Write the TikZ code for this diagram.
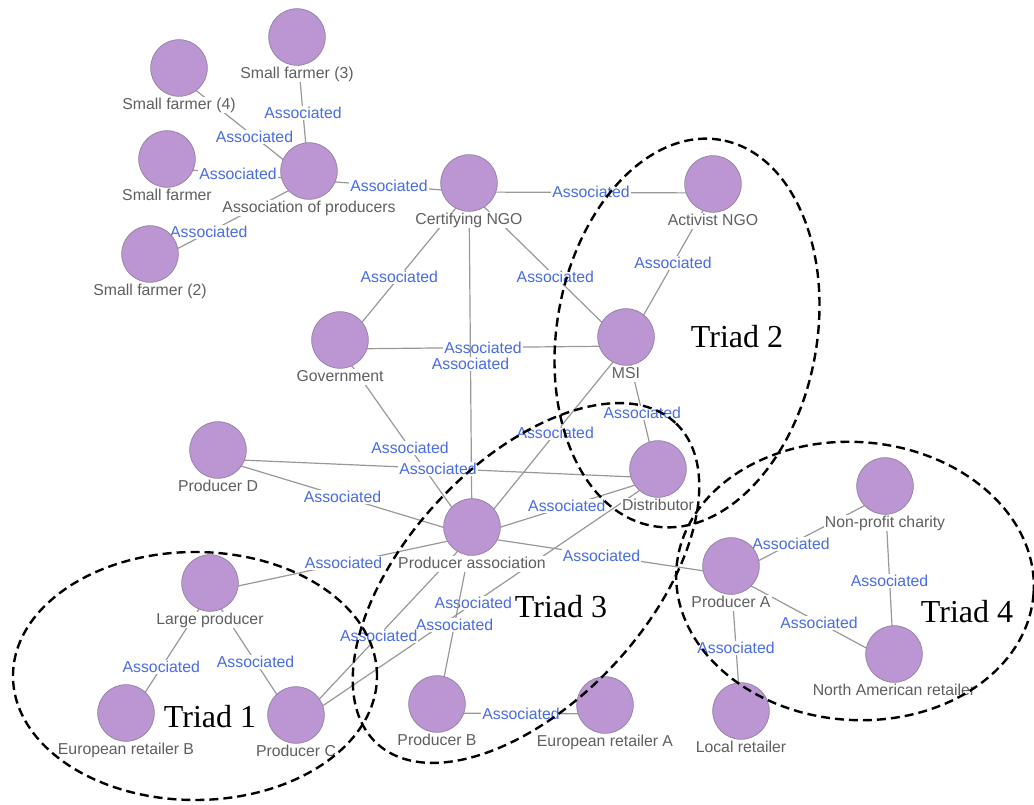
\documentclass[tikz,border=0pt]{standalone}
\usepackage{fontspec}
\setmainfont{Liberation Sans}
\newfontfamily\triadfont{Liberation Serif}
\usepackage{tikz}
\usetikzlibrary{backgrounds}
\definecolor{nodefill}{RGB}{187,150,211}
\definecolor{nodeedge}{RGB}{150,132,168}
\definecolor{linkgrey}{RGB}{152,152,152}
\definecolor{labelgrey}{RGB}{95,95,95}
\definecolor{assocblue}{RGB}{72,108,228}
\tikzset{
  actorname/.style={font=\fontsize{15.8}{18}\selectfont, text=labelgrey,
    fill=white, inner sep=1pt, text height=11.5pt, text depth=3pt},
  actor/.style={circle, draw=nodeedge, fill=nodefill, minimum size=56.6pt,
    inner sep=0pt, line width=0.8pt, label distance=3pt,
    label={[actorname]below:#1}},
  assoc/.style={font=\fontsize{15.8}{18}\selectfont, text=assocblue,
    fill=white, inner sep=1pt, text height=11.5pt, text depth=0.5pt},
  link/.style={line width=1.2pt, color=linkgrey},
  triad/.style={dash pattern=on 9pt off 5pt, line width=2.4pt, color=black},
  triadlabel/.style={font=\triadfont\fontsize{32}{36}\selectfont, anchor=base, inner sep=0pt}
}

\begin{document}
\begin{tikzpicture}[x=1pt, y=-1pt]
  \useasboundingbox (0,0) rectangle (1034,805);

  % Small farmers
  \node[actor=Small farmer (3)] (sf3) at (297,37) {};
  \node[actor=Small farmer (4)] (sf4) at (179,68) {};
  \node[actor=Small farmer] (sf1) at (167,159) {};
  \node[actor=Small farmer (2)] (sf2) at (150,254) {};
  \node[actor=Association of producers] (aop) at (309,171) {};

  % NGOs and institutions
  \node[actor=Certifying NGO] (cngo) at (469,183) {};
  \node[actor=Activist NGO] (ango) at (713,184) {};
  \node[actor=MSI] (msi) at (626,337) {};
  \node[actor=Government] (gov) at (340,340) {};

  % Supply chain
  \node[actor=Producer D] (pd) at (218,450) {};
  \node[actor=Distributor] (dist) at (658,469) {};
  \node[actor=Producer association] (pa) at (472,527) {};
  \node[actor=Large producer] (lp) at (210,583) {};
  \node[actor=European retailer B] (erb) at (126,713) {};
  \node[actor=Producer C] (pc) at (296,715) {};
  \node[actor=Producer B] (pb) at (437,704) {};
  \node[actor=European retailer A] (era) at (605,705) {};
  \node[actor=Producer A] (pra) at (731,566) {};
  \node[actor=Local retailer] (lr) at (741,711) {};
  \node[actor=Non-profit charity] (npc) at (885,486) {};
  \node[actor=North American retailer] (nar) at (894,654) {};

  % Edge hubs (centre of dot and name)
  \foreach \n in {sf3,sf4,sf1,sf2,aop,cngo,ango,msi,gov,pd,dist,pa,lp,erb,pc,pb,era,pra,lr,npc,nar}
    \coordinate (\n-hub) at ([yshift=-9pt]\n.center);

  % Connections
  \begin{scope}[on background layer]
    \draw[link] (sf3-hub) -- node[assoc, pos=0.5] {Associated} (aop-hub);
    \draw[link] (sf4-hub) -- node[assoc, pos=0.58] {Associated} (aop-hub);
    \draw[link] (sf1-hub) -- node[assoc, pos=0.5] {Associated} (aop-hub);
    \draw[link] (sf2-hub) -- node[assoc, pos=0.37] {Associated} (aop-hub);
    \draw[link] (aop-hub) -- node[assoc, pos=0.5] {Associated} (cngo-hub);
    \draw[link] (cngo-hub) -- node[assoc, pos=0.5] {Associated} (ango-hub);
    \draw[link] (cngo-hub) -- node[assoc, pos=0.54] {Associated} (gov-hub);
    \draw[link] (cngo-hub) -- node[assoc, pos=0.55] {Associated} (msi-hub);
    \draw[link] (ango-hub) -- node[assoc, pos=0.46] {Associated} (msi-hub);
    \draw[link] (gov-hub) -- node[assoc, pos=0.5] {Associated} (msi-hub);
    \draw[link] (cngo-hub) -- node[assoc, pos=0.5] {Associated} (pa-hub);
    \draw[link] (msi-hub) -- node[assoc, pos=0.51] {Associated} (dist-hub);
    \draw[link] (gov-hub) -- node[assoc, pos=0.53] {Associated} (pa-hub);
    \draw[link] (pd-hub) -- node[assoc, pos=0.5] {Associated} (dist-hub);
    \draw[link] (msi-hub) -- node[assoc, pos=0.46] {Associated} (pa-hub);
    \draw[link] (pd-hub) -- node[assoc, pos=0.49] {Associated} (pa-hub);
    \draw[link] (dist-hub) -- node[assoc, pos=0.49] {Associated} (pa-hub);
    \draw[link] (pa-hub) -- node[assoc, pos=0.5] {Associated} (pra-hub);
    \draw[link] (lp-hub) -- node[assoc, pos=0.51] {Associated} (pa-hub);
    \draw[link] (dist-hub) -- node[assoc, pos=0.51] {Associated} (pc-hub);
    \draw[link] (pa-hub) -- node[assoc, pos=0.5] {Associated} (pb-hub);
    \draw[link] (pc-hub) -- node[assoc, pos=0.47] {Associated} (pa-hub);
    \draw[link] (lp-hub) -- node[assoc, pos=0.58] {Associated} (erb-hub);
    \draw[link] (lp-hub) -- node[assoc, pos=0.53] {Associated} (pc-hub);
    \draw[link] (pb-hub) -- node[assoc, pos=0.5] {Associated} (era-hub);
    \draw[link] (pra-hub) -- node[assoc, pos=0.39] {Associated} (npc-hub);
    \draw[link] (npc-hub) -- node[assoc, pos=0.51] {Associated} (nar-hub);
    \draw[link] (pra-hub) -- node[assoc, pos=0.54] {Associated} (nar-hub);
    \draw[link] (pra-hub) -- node[assoc, pos=0.5] {Associated} (lr-hub);
  \end{scope}

  % Triads
  \draw[triad] (195,676) ellipse [x radius=182pt, y radius=124pt];
  \draw[triad, rotate around={80:(687,333)}] (687,333) ellipse [x radius=196pt, y radius=130pt];
  \draw[triad, rotate around={47:(526,583)}] (526,583) ellipse [x radius=219pt, y radius=120pt];
  \draw[triad, rotate around={-4:(855,581)}] (855,581) ellipse [x radius=179pt, y radius=139pt];

  \node[triadlabel] (t1) at (210,727) {Triad 1};
  \node[triadlabel] (t2) at (737,347) {Triad 2};
  \node[triadlabel] (t3) at (561,617) {Triad 3};
  \node[triadlabel] (t4) at (967,622) {Triad 4};
\end{tikzpicture}
\end{document}
